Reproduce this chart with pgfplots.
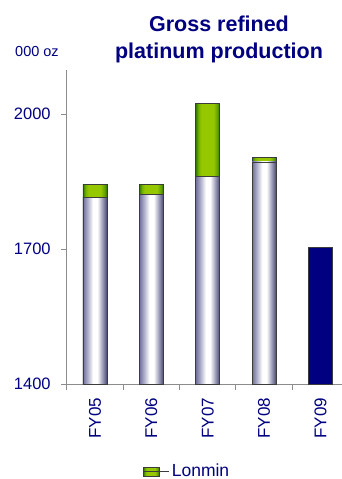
\documentclass[border=0pt]{standalone}
\usepackage{pgfplots}
\pgfplotsset{compat=1.18}
\usepackage{fontspec}
\setmainfont{Liberation Sans}

\definecolor{navytxt}{RGB}{0,0,128}
\definecolor{barnavy}{RGB}{0,0,128}
\definecolor{edge}{RGB}{60,60,60}
\definecolor{axisgray}{RGB}{140,140,140}

% cylinder-like horizontal shadings for the bars (path spans 25bp..75bp)
\pgfdeclarehorizontalshading{minebar}{100bp}{%
  color(0bp)=(rgb,255:red,110;green,110;blue,154);
  color(25bp)=(rgb,255:red,110;green,110;blue,154);
  color(35bp)=(rgb,255:red,176;green,176;blue,204);
  color(46bp)=(white);
  color(55bp)=(white);
  color(66bp)=(rgb,255:red,154;green,154;blue,184);
  color(75bp)=(rgb,255:red,72;green,72;blue,108);
  color(100bp)=(rgb,255:red,72;green,72;blue,108)}
\pgfdeclarehorizontalshading{lonminbar}{100bp}{%
  color(0bp)=(rgb,255:red,50;green,120;blue,0);
  color(25bp)=(rgb,255:red,50;green,120;blue,0);
  color(31bp)=(rgb,255:red,120;green,180;blue,0);
  color(37bp)=(rgb,255:red,150;green,200;blue,0);
  color(62bp)=(rgb,255:red,150;green,200;blue,0);
  color(70bp)=(rgb,255:red,100;green,160;blue,0);
  color(75bp)=(rgb,255:red,50;green,115;blue,0);
  color(100bp)=(rgb,255:red,50;green,115;blue,0)}

\pgfplotsset{
  minestyle/.style={forget plot, draw=edge, line width=0.8pt, shading=minebar},
  lonminstyle/.style={draw=edge, line width=0.8pt, shading=lonminbar},
}

\begin{document}
\begin{tikzpicture}[x=1pt,y=1pt]
\useasboundingbox (0,0) rectangle (342,479);

% titles
\node[anchor=base, font=\bfseries\fontsize{21.5}{26}\selectfont, text=navytxt, inner sep=0]
  at (219,447) {Gross refined};
\node[anchor=base, font=\bfseries\fontsize{21.5}{26}\selectfont, text=navytxt, inner sep=0]
  at (219,420) {platinum production};
\node[anchor=base west, font=\fontsize{14.5}{17}\selectfont, text=navytxt, inner sep=0]
  at (15,422) {000 oz};

\begin{axis}[
  at={(66.7pt,94.7pt)}, anchor=south west,
  scale only axis,
  width=275.3pt, height=314.1pt,
  xmin=-0.5, xmax=4.381,
  ymin=1400, ymax=2098,
  ybar, bar shift=0pt,
  bar width=24pt,
  axis lines=left,
  axis line style={-, draw=axisgray, line width=0.9pt},
  tick align=outside,
  ytick={1400,1700,2000},
  major tick length=5.5pt,
  tick style={draw=axisgray, line width=0.9pt},
  yticklabel style={font=\fontsize{16.5}{19}\selectfont, text=navytxt, xshift=-7pt},
  /pgf/number format/assume math mode=true,
  /pgf/number format/set thousands separator={},
  xtick={-0.5,0.5,1.5,2.5,3.5},
  xticklabels={},
  extra x ticks={0,1,2,3,4},
  extra x tick labels={FY05,FY06,FY07,FY08,FY09},
  extra x tick style={major tick length=0pt,
    xticklabel style={yshift=-10pt, rotate=90, anchor=east,
      font=\fontsize{17}{20}\selectfont, text=navytxt}},
  legend style={at={(0.4375,-0.276)}, anchor=center, draw=none, fill=none,
    font=\fontsize{17.5}{20}\selectfont, text=navytxt,
    legend cell align=left, inner sep=1pt},
  legend image code/.code={%
    \draw[#1] (0pt,-5.2pt) rectangle (15.7pt,3.2pt);
    \path (0pt,0pt) -- (26pt,0pt);},
]
% totals including Lonmin (green part shows above mine output)
\addplot[lonminstyle] coordinates {(0,1845)};
\addlegendentry{Lonmin}
\addplot[lonminstyle, forget plot] coordinates {(1,1845)};
\addplot[lonminstyle, forget plot] coordinates {(2,2024)};
\addplot[lonminstyle, forget plot] coordinates {(3,1904)};
% mine output excluding Lonmin
\addplot[minestyle] coordinates {(0,1815)};
\addplot[minestyle] coordinates {(1,1821)};
\addplot[minestyle] coordinates {(2,1861)};
\addplot[minestyle] coordinates {(3,1894)};
% FY09
\addplot[forget plot, draw=edge, line width=0.8pt, fill=barnavy]
  coordinates {(4,1705)};
\end{axis}
\end{tikzpicture}
\end{document}
